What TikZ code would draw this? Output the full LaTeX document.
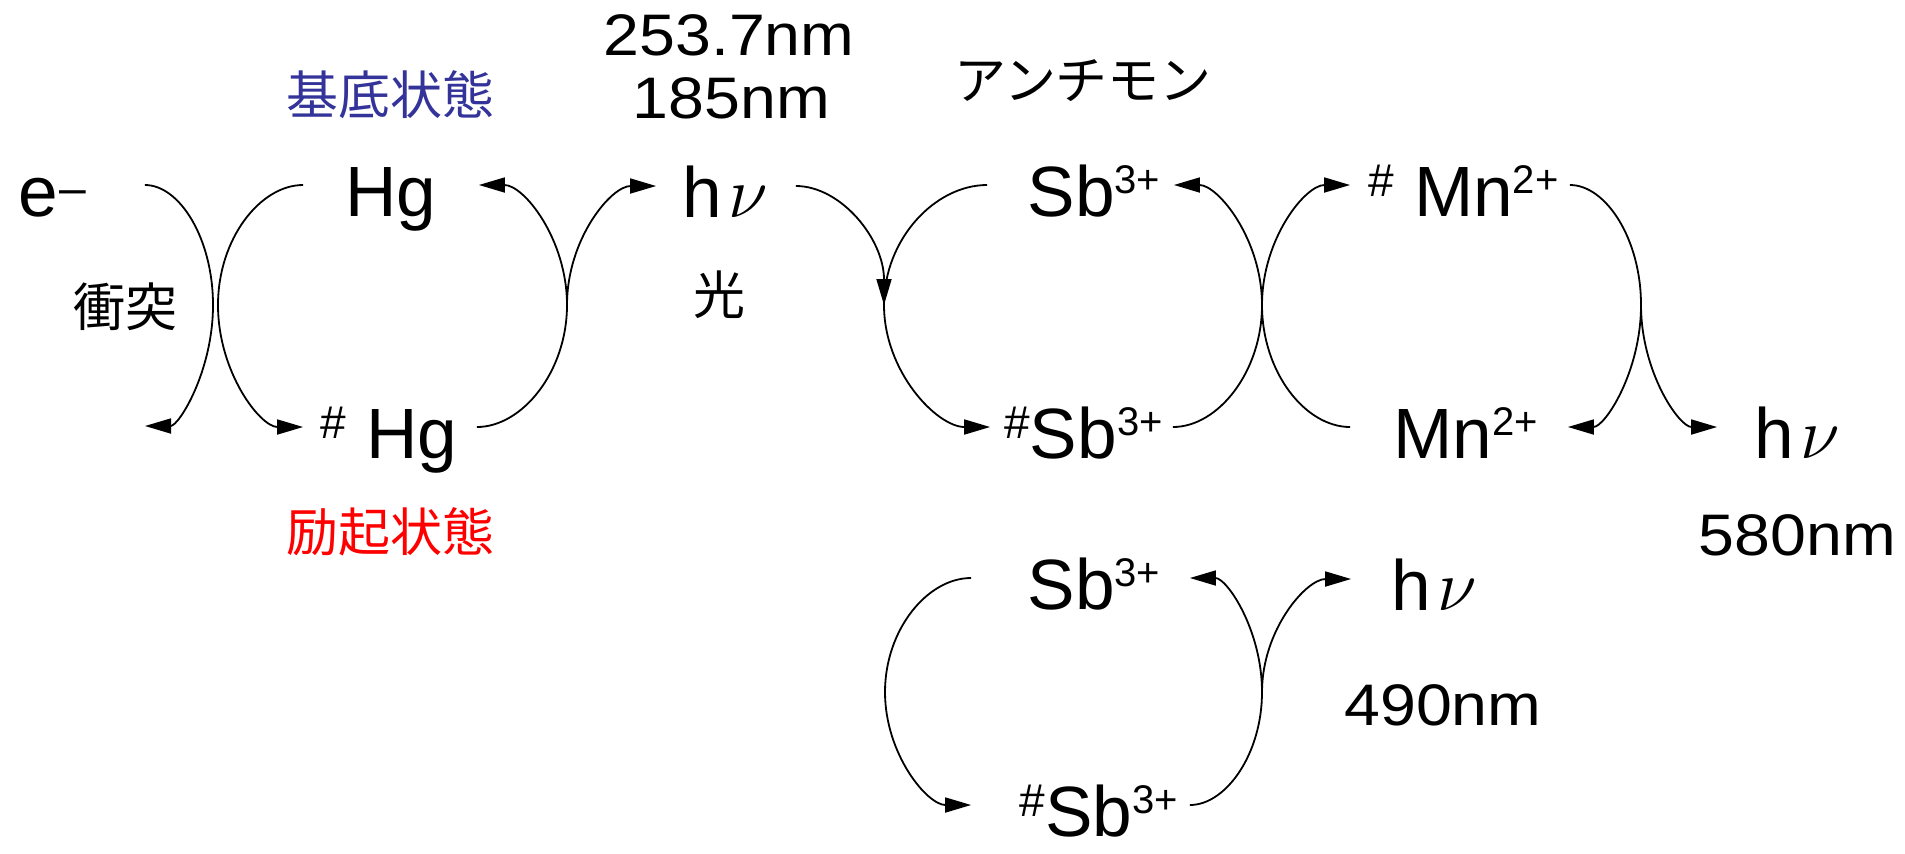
\documentclass[tikz,border=0pt]{standalone}
\usepackage{graphicx}
\usepackage{fontspec}
\setmainfont{Liberation Sans}
\newfontfamily\jpf{Noto Sans CJK JP}
\newfontfamily\numf[FakeStretch=1.1]{Liberation Sans}
\usetikzlibrary{arrows.meta}
\definecolor{kblue}{RGB}{51,51,153}
\definecolor{kred}{RGB}{255,0,0}
\newcommand\mainsz{\fontsize{35.6pt}{40pt}\selectfont}
\newcommand\ionc[1]{\raisebox{11.2pt}{\fontsize{20pt}{20pt}\selectfont #1}}
\newcommand\exc{\raisebox{10pt}{\fontsize{23pt}{23pt}\selectfont\#}}
\newcommand\lbl[3]{\makebox[#1][c]{\hspace*{#2}#3}}
\newcommand\hnu{h\hspace{3pt}\scalebox{1.45}{\fontsize{24.88pt}{28pt}\selectfont$\nu$}}
\begin{document}
\begin{tikzpicture}[x=0.5pt,y=-0.5pt, line width=0.9pt,
  lab/.style={inner sep=0pt, text height=31pt, text depth=0pt, font=\mainsz},
  jp/.style={inner sep=0pt, font={\jpf\fontsize{26pt}{30pt}\selectfont}},
  num/.style={inner sep=0pt, font={\numf\fontsize{29.3pt}{34pt}\selectfont}},
  arr/.style={-{Triangle[length=13pt,width=7.5pt]}}]
\useasboundingbox (0,0) rectangle (1905,853);

% labels
\node[jp, text=kblue] (kitei) at (390,95) {基底状態};
\node[jp, text=kred] (reiki) at (390,532) {励起状態};
\node[jp] (shototsu) at (125,307) {衝突};
\node[jp] (hikari) at (719,295) {光};
\node[jp] (antimon) at (1083,81) {アンチモン};
\node[num] (w1) at (729,35) {253.7nm};
\node[num] (w2) at (731.5,98) {185nm};
\node[num] (w3) at (1797.5,535.5) {580nm};
\node[num] (w4) at (1443,705) {490nm};

% species
\node[lab] (e) at (72,185) {\lbl{72pt}{-19.5pt}{e\hspace{1pt}\raisebox{6pt}{\fontsize{24pt}{24pt}\selectfont –}}};
\node[lab] (hg) at (391,185) {\lbl{87pt}{0pt}{Hg}};
\node[lab] (hgx) at (390,427) {\lbl{86pt}{-1pt}{\exc\hspace{10pt}Hg}};
\node[lab] (hv1) at (726,186) {\lbl{69pt}{-1pt}{\hnu}};
\node[lab] (sb1) at (1080.5,185) {\lbl{92.5pt}{13.5pt}{Sb\ionc{3+}}};
\node[lab] (sbx1) at (1081.5,427) {\lbl{90.5pt}{2pt}{\exc Sb\ionc{3+}}};
\node[lab] (mnx) at (1460,185) {\lbl{109pt}{3.5pt}{\exc\hspace{10pt}Mn\ionc{2+}}};
\node[lab] (mn) at (1459,427) {\lbl{108pt}{6.5pt}{Mn\ionc{2+}}};
\node[lab] (hv2) at (1797.5,427) {\lbl{79.5pt}{0pt}{\hnu}};
\node[lab] (sb2) at (1080.5,578) {\lbl{108.5pt}{13.5pt}{Sb\ionc{3+}}};
\node[lab] (sbx2) at (1080.5,805) {\lbl{108.5pt}{18.5pt}{\exc Sb\ionc{3+}}};
\node[lab] (hv3) at (1434.5,579) {\lbl{82.5pt}{0pt}{\hnu}};

% junction points
\coordinate (me) at (213,305);
\coordinate (eEnd) at (145,426);
\coordinate (mhl) at (218,305);
\coordinate (mhr) at (567,305);
\coordinate (ms1) at (884,305);
\coordinate (msm) at (1262,305);
\coordinate (mmr) at (1641,305);
\coordinate (ml2) at (885,692);
\coordinate (mr2) at (1262,692);

% connectors
\draw[arr] (e.east) .. controls +(35,0) and +(0,-66) .. (me) .. controls +(0,66) and +(34,0) .. (eEnd);
\draw[arr] (hg.west) .. controls +(-43,0) and +(0,-66) .. (mhl) .. controls +(0,67) and +(-43,0) .. (hgx.west);
\draw[arr] (hgx.east) .. controls +(45,0) and +(0,67) .. (mhr) .. controls +(0,-66) and +(45,0) .. (hg.east);
\draw[arr] (mhr) .. controls +(0,-66) and +(-45,0) .. (hv1.west);
\draw[arr] (hv1.east) .. controls +(45,0) and +(0,-66) .. (ms1);
\draw[arr] (sb1.west) .. controls +(-52,0) and +(0,-66) .. (ms1) .. controls +(0,67) and +(-53,0) .. (sbx1.west);
\draw[arr] (sbx1.east) .. controls +(45,0) and +(0,67) .. (msm) .. controls +(0,-66) and +(44,0) .. (sb1.east);
\draw[arr] (msm) .. controls +(0,-66) and +(-45,0) .. (mnx.west);
\draw (mn.west) .. controls +(-45,0) and +(0,67) .. (msm);
\draw[arr] (mnx.east) .. controls +(36,0) and +(0,-66) .. (mmr) .. controls +(0,67) and +(37,0) .. (mn.east);
\draw[arr] (mmr) .. controls +(0,67) and +(-38,0) .. (hv2.west);
\draw[arr] (sb2.west) .. controls +(-44,0) and +(0,-62) .. (ml2) .. controls +(0,62) and +(-44,0) .. (sbx2.west);
\draw[arr] (sbx2.east) .. controls +(36,0) and +(0,62) .. (mr2) .. controls +(0,-62) and +(37,0) .. (sb2.east);
\draw[arr] (mr2) .. controls +(0,-62) and +(-45,0) .. (hv3.west);
\end{tikzpicture}
\end{document}
